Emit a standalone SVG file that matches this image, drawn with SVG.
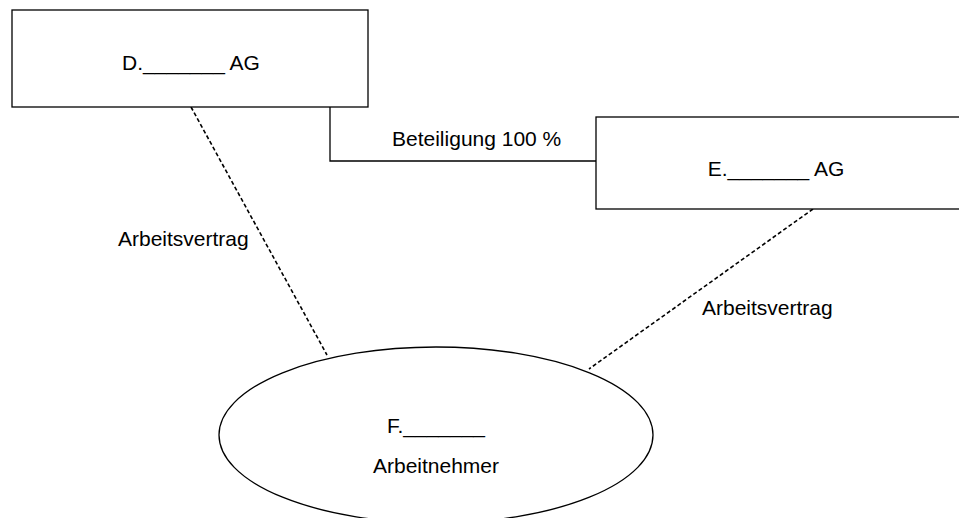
<svg xmlns="http://www.w3.org/2000/svg" width="959" height="518" viewBox="0 0 959 518">
<style>
.box{fill:#fff;stroke:#000;stroke-width:1.3}
.t{font-family:"Liberation Sans",Arial,sans-serif;font-size:21px;fill:#000}
.c{text-anchor:middle}
.solid{fill:none;stroke:#000;stroke-width:1.3}
.dash{fill:none;stroke:#000;stroke-width:1.6;stroke-dasharray:4,2.5}
</style>
<rect width="959" height="518" fill="#fff"/>
<g id="connectors">
<polyline class="solid" points="330,107 330,161 596,161"/>
<line class="dash" x1="191" y1="107" x2="327" y2="355"/>
<line class="dash" x1="813" y1="209" x2="589" y2="369"/>
<text class="t" x="392" y="146">Beteiligung 100 %</text>
<text class="t" x="118" y="246">Arbeitsvertrag</text>
<text class="t" x="702" y="315">Arbeitsvertrag</text>
</g>
<g id="nodeD">
<rect class="box" x="12" y="10" width="356" height="97"/>
<text class="t c" x="191" y="70">D._______ AG</text>
</g>
<g id="nodeE">
<rect class="box" x="596" y="117" width="368" height="92"/>
<text class="t c" x="776" y="176">E._______ AG</text>
</g>
<g id="nodeF">
<ellipse class="box" cx="436" cy="435" rx="217" ry="88"/>
<text class="t c" x="436" y="433">F._______</text>
<text class="t c" x="436" y="473">Arbeitnehmer</text>
</g>
</svg>
